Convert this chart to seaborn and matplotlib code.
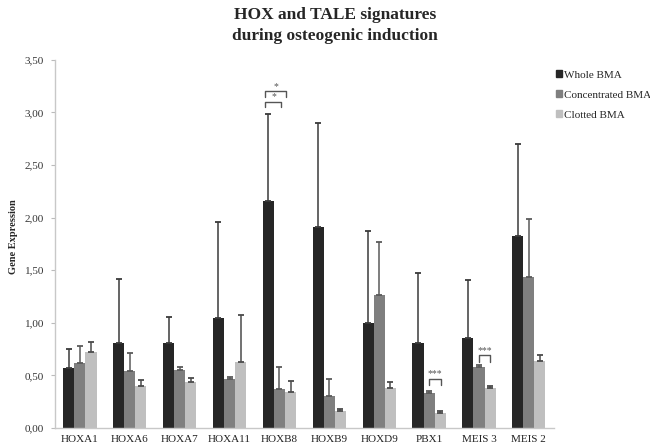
import numpy as np
import pandas as pd
import matplotlib
matplotlib.use("Agg")
import matplotlib.pyplot as plt
from matplotlib.ticker import FuncFormatter, FixedLocator
import seaborn as sns

genes = ["HOXA1", "HOXA6", "HOXA7", "HOXA11", "HOXB8",
         "HOXB9", "HOXD9", "PBX1", "MEIS 3", "MEIS 2"]
groups = ["Whole BMA", "Concentrated BMA", "Clotted BMA"]

whole_mean = [0.57, 0.81, 0.81, 1.05, 2.16, 1.91, 1.00, 0.81, 0.86, 1.83]
whole_sd = [0.18, 0.61, 0.25, 0.91, 0.83, 0.99, 0.87, 0.66, 0.55, 0.87]
conc_mean = [0.62, 0.54, 0.55, 0.47, 0.37, 0.30, 1.26, 0.33, 0.58, 1.44]
conc_sd = [0.16, 0.17, 0.03, 0.015, 0.21, 0.17, 0.51, 0.02, 0.02, 0.55]
clot_mean = [0.72, 0.40, 0.44, 0.63, 0.345, 0.16, 0.38, 0.14, 0.38, 0.64]
clot_sd = [0.095, 0.06, 0.04, 0.44, 0.105, 0.02, 0.06, 0.02, 0.02, 0.05]

colors = ["#262626", "#7f7f7f", "#bfbfbf"]
err_colors = ["#3a3a3a", "#5a5a5a", "#4a4a4a"]

means = [whole_mean, conc_mean, clot_mean]
sds = [whole_sd, conc_sd, clot_sd]

df = pd.DataFrame({
    "gene": genes * 3,
    "group": [g for g in groups for _ in genes],
    "value": whole_mean + conc_mean + clot_mean,
})

sns.set_style("white")
plt.rcParams["font.family"] = ["Liberation Serif", "DejaVu Serif"]

fig = plt.figure(figsize=(6.5, 4.47), dpi=100)
ax = fig.add_axes([0.0846, 0.0425, 0.7674, 0.8235])

sns.barplot(data=df, x="gene", y="value", hue="group", order=genes,
            hue_order=groups, palette=colors, errorbar=None,
            width=0.667, gap=0, linewidth=0, ax=ax, legend=False)

# upward-only standard deviation bars on each bar
n = len(genes)
bar_sets = list(ax.containers)
for k, cont in enumerate(bar_sets):
    xs = [p.get_x() + p.get_width() / 2 for p in cont.patches]
    ys = [p.get_height() for p in cont.patches]
    ax.errorbar(xs, ys, yerr=[np.zeros(n), sds[k]], fmt="none",
                ecolor=err_colors[k], elinewidth=1.1, capsize=2.2,
                capthick=1.3, zorder=3)

ax.set_ylim(0, 3.5)
ax.set_xlim(-0.5, n - 0.5)
ax.yaxis.set_major_locator(FixedLocator(np.arange(0, 3.51, 0.5)))
ax.yaxis.set_major_formatter(FuncFormatter(lambda v, p: f"{v:.2f}".replace(".", ",")))
ax.set_xticks(range(n))
ax.set_xticklabels(genes)
ax.set_xticks(np.arange(-0.5, n, 1.0), minor=True)
ax.tick_params(axis="x", which="major", length=0, pad=5, labelsize=8, labelcolor="#222222")
ax.tick_params(axis="x", which="minor", length=4, width=0.8, color="#bbbbbb")
ax.tick_params(axis="y", length=3, width=0.8, color="#bbbbbb", pad=5,
               labelsize=8, labelcolor="#333333", left=True)

for side in ["top", "right"]:
    ax.spines[side].set_visible(False)
for side in ["left", "bottom"]:
    ax.spines[side].set_color("#c8c8c8")
    ax.spines[side].set_linewidth(1.0)

ax.set_xlabel("")
ax.set_ylabel("Gene Expression", fontsize=7.5, fontweight="bold")
ax.yaxis.set_label_coords(-0.074, 0.52)

fig.suptitle("HOX and TALE signatures\nduring osteogenic induction",
             x=0.515, y=0.985, fontsize=12.5, fontweight="bold", linespacing=1.4)


def bracket(x0, x1, y, label, leg=0.05):
    ax.plot([x0, x0, x1, x1], [y - leg, y, y, y - leg], color="#555555",
            lw=1.0, zorder=4)
    ax.text((x0 + x1) / 2, y + 0.005, label, ha="center", va="bottom",
            fontsize=7, color="#555555")


bracket(3.72, 4.04, 3.10, "*")
bracket(3.72, 4.135, 3.20, "*")
bracket(7.0, 7.24, 0.47, "***", leg=0.06)
bracket(8.01, 8.23, 0.69, "***", leg=0.06)

handles = [plt.Rectangle((0, 0), 1, 1, color=c) for c in colors]
fig.legend(handles, groups, loc="upper left", bbox_to_anchor=(0.848, 0.853),
           frameon=False, fontsize=8, handlelength=0.6, handleheight=0.6,
           handletextpad=0.15, labelspacing=0.95, borderaxespad=0)

fig.savefig("out.png", dpi=100)
